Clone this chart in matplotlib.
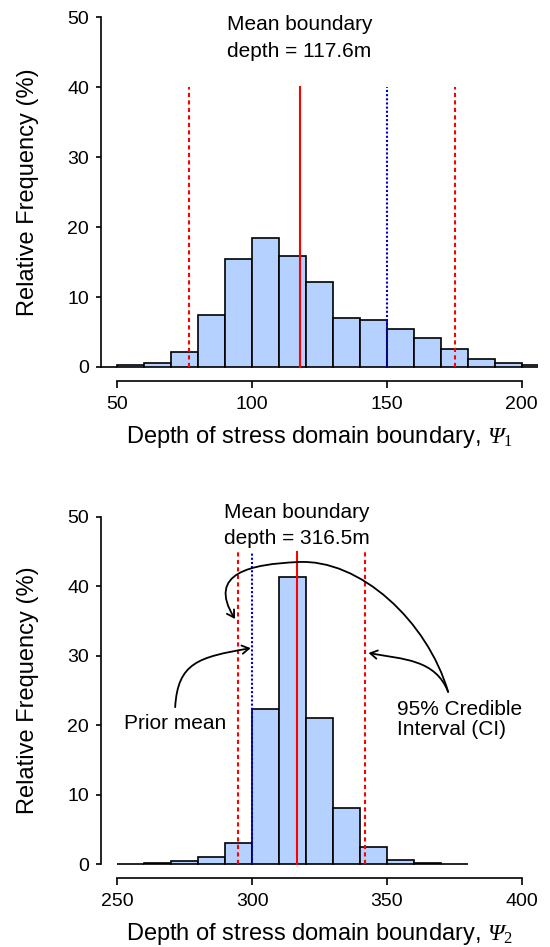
import matplotlib
matplotlib.use("Agg")
import matplotlib.pyplot as plt
from matplotlib.path import Path
from matplotlib.patches import FancyArrowPatch

plt.rcParams['font.family'] = ['Liberation Sans', 'DejaVu Sans']
# italic serif Psi with an upright serif subscript
plt.rcParams['mathtext.fontset'] = 'custom'
plt.rcParams['mathtext.rm'] = 'Liberation Serif:italic'
plt.rcParams['mathtext.it'] = 'Liberation Serif:italic'
plt.rcParams['mathtext.sf'] = 'Liberation Serif'

# top panel: boundary depth Psi_1 (bins of 10 m, first bin empty)
edges1 = [40, 50, 60, 70, 80, 90, 100, 110, 120, 130, 140, 150, 160, 170, 180, 190, 200]
freq1 = [0.0, 0.33, 0.62, 2.1, 7.4, 15.5, 18.5, 15.8, 12.2, 7.0, 6.7, 5.4, 4.1, 2.5, 1.1, 0.5, 0.25]
ci1 = [76.5, 175.2]
mean1 = 117.6
prior1 = 150.0

# bottom panel: boundary depth Psi_2
edges2 = [250, 260, 270, 280, 290, 300, 310, 320, 330, 340, 350, 360, 370]
freq2 = [0.0, 0.1, 0.4, 1.0, 3.1, 22.4, 41.3, 21.0, 8.1, 2.4, 0.6, 0.1, 0.05]
ci2 = [294.7, 341.7]
mean2 = 316.5
prior2 = 300.0

bar_col = "#b5d1ff"
red = "#ff0000"
blue = "#0000cc"

fig = plt.figure(figsize=(5.5, 9.47), dpi=100)
ax1 = fig.add_axes([0.1836, 0.5977, 0.7945, 0.399])
ax2 = fig.add_axes([0.1836, 0.0729, 0.7945, 0.3959])


def panel(ax, edges, freq, ci, mean, prior, xlo, xhi, line_top, sub):
    ax.bar(edges, freq, width=10, align='edge', color=bar_col,
           edgecolor='black', linewidth=1.2, zorder=2)
    pad = (xhi - xlo) * 0.04
    ax.set_xlim(xlo - pad, xhi + pad)
    ax.set_ylim(-2, 52)
    for v in ci:
        ax.plot([v, v], [0, line_top], color=red, lw=1.5, ls=(0, (2, 1.6)), zorder=3)
    ax.plot([prior, prior], [0, line_top], color=blue, lw=1.5, ls=(0, (1, 1)), zorder=3)
    ax.plot([mean, mean], [0, line_top], color=red, lw=1.5, zorder=3)
    for s in ['top', 'right']:
        ax.spines[s].set_visible(False)
    ax.spines['left'].set_bounds(0, 50)
    ax.spines['bottom'].set_bounds(xlo, xhi)
    ax.spines['left'].set_linewidth(1.2)
    ax.spines['bottom'].set_linewidth(1.2)
    ax.set_xticks(range(xlo, xhi + 1, 50))
    ax.set_yticks(range(0, 51, 10))
    ax.tick_params(axis='x', length=5, width=1.2, pad=6, labelsize=14)
    ax.tick_params(axis='y', length=3.6, width=1.2, pad=5, labelsize=14)
    ax.set_ylabel("Relative Frequency (%)", fontsize=17, labelpad=20)
    ax.set_xlabel("Depth of stress domain boundary, $\\Psi_{\\mathsf{%d}}$" % sub,
                  fontsize=17, labelpad=8)


panel(ax1, edges1, freq1, ci1, mean1, prior1, 50, 200, 40, 1)
panel(ax2, edges2, freq2, ci2, mean2, prior2, 250, 400, 45, 2)

ax1.text(mean1, 47, "Mean boundary\ndepth = %.1fm" % mean1, ha='center', va='center',
         fontsize=15, linespacing=1.5)
ax2.text(mean2, 48.8, "Mean boundary\ndepth = %.1fm" % mean2, ha='center', va='center',
         fontsize=15, linespacing=1.5)

ax2.text(271.5, 20.3, "Prior mean", ha='center', va='center', fontsize=15)
ax2.text(353.6, 20.8, "95% Credible\nInterval (CI)", ha='left', va='center',
         fontsize=15, linespacing=1.1)

C = Path.CURVE4
arrows = [
    # prior mean label -> prior line
    Path([(271.5, 22.6), (272.5, 29.0), (280, 29.8), (299.5, 31.1)],
         [Path.MOVETO, C, C, C]),
    # CI label -> upper CI line
    Path([(372.7, 24.8), (368, 29.5), (356, 29.5), (343.2, 30.4)],
         [Path.MOVETO, C, C, C]),
    # CI label -> lower CI line, over the top
    Path([(372.7, 24.8), (365, 35), (340, 44), (317, 43.5),
          (300, 43.2), (283, 42), (293.7, 35.3)],
         [Path.MOVETO, C, C, C, C, C, C]),
]
for p in arrows:
    ax2.add_patch(FancyArrowPatch(path=p, arrowstyle='->,head_length=5,head_width=3',
                                  color='black', lw=1.3, zorder=4))

fig.savefig("out.png", dpi=100)
